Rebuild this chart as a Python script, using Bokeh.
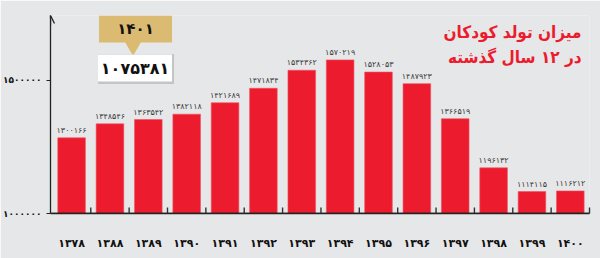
from bokeh.plotting import figure
from bokeh.models import Range1d, FixedTicker, ColumnDataSource, Label, Arrow, OpenHead, Span
from bokeh.core.properties import value
from bokeh.embed import file_html
from bokeh.resources import INLINE

# ---- data ----
years = [1378, 1388, 1389, 1390, 1391, 1392, 1393, 1394, 1395, 1396, 1397, 1398, 1399, 1400]
births = [1300166, 1348546, 1363542, 1382118, 1421689, 1471834, 1534362, 1570219,
          1528053, 1487923, 1366519, 1196132, 1114115, 1116212]
y_ticks = [1038000, 1500000]
y_tick_labels = ["1000000", "1500000"]
callout_year = 1401
callout_value = 1075381
title_lines = ["میزان تولد کودکان", "در ۱۲ سال گذشته"]

FA = str.maketrans("0123456789", "۰۱۲۳۴۵۶۷۸۹")
def fa(v):
    return str(v).translate(FA)

RED = "#ec1c2e"
BG = "#e6e7e8"
TAN = "#dbbb72"
FONT = "DejaVu Sans"
FONTC = "DejaVu Sans Condensed"

Y0, Y1 = 1038000, 1724000
X0, X1 = -0.55, 13.5
W, H = 600, 258
L, R, T, B = 47, 11, 15, 45

p = figure(width=W, height=H, output_backend="svg", toolbar_location=None,
           x_range=Range1d(X0, X1), y_range=Range1d(Y0, Y1),
           min_border_left=L, min_border_right=R, min_border_top=T, min_border_bottom=B)
p.background_fill_color = BG
p.border_fill_color = BG
p.outline_line_color = None
p.grid.visible = False

# px -> data helpers for annotation layout
fw, fh = W - L - R, H - T - B
def xd(px):
    return X0 + (px - L) * (X1 - X0) / fw
def yd(py):
    return Y0 + (H - B - py) * (Y1 - Y0) / fh

src = ColumnDataSource(dict(x=list(range(len(years))), v=births,
                            lab=[fa(b) for b in births]))
p.vbar(x="x", top="v", bottom=Y0, width=0.72, source=src, fill_color=RED,
       line_color="#f0525e", line_width=0.6)
p.text(x="x", y="v", text="lab", source=src, text_align="center", text_baseline="bottom",
       y_offset=-3, text_font=value(FONT), text_font_size="8px", text_color="#3a3a3a")

# x axis (labels from the axis; rule and boundary ticks drawn on the overlay level)
xa = p.xaxis[0]
xa.ticker = FixedTicker(ticks=list(range(len(years))))
xa.major_label_overrides = {i: fa(y) for i, y in enumerate(years)}
xa.major_tick_line_color = None
xa.minor_tick_line_color = None
xa.axis_line_color = "#222222"
xa.axis_line_width = 1.5
xa.major_label_standoff = 17
xa.major_label_text_font = FONT
xa.major_label_text_font_size = "11px"
xa.major_label_text_font_style = "bold"
xa.major_label_text_color = "#111111"

p.add_layout(Span(location=Y0, dimension="width", line_color="#222222",
                  line_width=1.6, level="overlay"))
tick_src = ColumnDataSource(dict(xt=[i + 0.5 for i in range(len(years))],
                                 yb=[Y0] * len(years),
                                 yt=[yd(H - B - 6)] * len(years)))
tk = p.segment(x0="xt", y0="yb", x1="xt", y1="yt", source=tick_src,
               line_color="#333333", line_width=1.4)
tk.level = "overlay"

# y axis
ya = p.yaxis[0]
ya.ticker = FixedTicker(ticks=y_ticks)
ya.major_label_overrides = {t: fa(s) for t, s in zip(y_ticks, y_tick_labels)}
ya.minor_tick_line_color = None
ya.major_tick_in = 0
ya.major_tick_out = 4
ya.major_tick_line_color = "#222222"
ya.axis_line_color = "#222222"
ya.axis_line_width = 1.3
ya.major_label_standoff = 5
ya.major_label_text_font = FONT
ya.major_label_text_font_size = "9px"
ya.major_label_text_font_style = "bold"
ya.major_label_text_color = "#111111"

p.add_layout(Arrow(end=OpenHead(size=8, line_width=1.3, line_color="#222222"),
                   x_start=X0, y_start=yd(T + 10), x_end=X0, y_end=Y1,
                   line_color="#222222", line_width=1.3))

# callout
p.rect(x=[xd(132.5)], y=[yd(28.5)], width=73, height=27, width_units="screen",
       height_units="screen", fill_color=TAN, line_color=None)
p.scatter(x=[xd(130)], y=[yd(45)], marker="inverted_triangle", size=18,
          fill_color=TAN, line_color=None)
p.rect(x=[xd(133)], y=[yd(68.5)], width=76, height=30, width_units="screen",
       height_units="screen", fill_color="#9a9a9a", fill_alpha=0.45, line_color=None)
p.rect(x=[xd(132)], y=[yd(67.5)], width=74, height=27, width_units="screen",
       height_units="screen", fill_color="white", line_color=None)
p.add_layout(Label(x=xd(132.5), y=yd(28.5), text=fa(callout_year), text_align="center",
                   text_baseline="middle", text_font=FONT, text_font_size="15px",
                   text_font_style="bold", text_color="#111111"))
p.add_layout(Label(x=xd(132), y=yd(67.5), text=fa(callout_value), text_align="center",
                   text_baseline="middle", text_font=FONT, text_font_size="16px",
                   text_font_style="bold", text_color="#111111"))

# title
for i, line in enumerate(title_lines):
    p.add_layout(Label(x=xd(581), y=yd(31 + 25 * i), text=line, text_align="right",
                       text_baseline="middle", text_font=FONTC, text_font_size="17px",
                       text_font_style="bold", text_color=RED))

open("out.html", "w").write(file_html(p, INLINE))
